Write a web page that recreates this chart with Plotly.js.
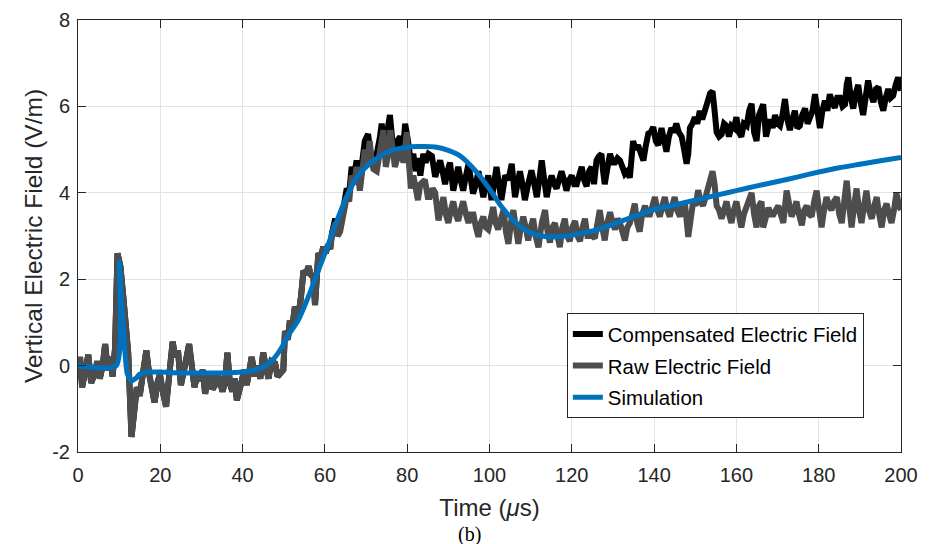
<!DOCTYPE html>
<html>
<head>
<meta charset="utf-8">
<script src="https://cdn.plot.ly/plotly-3.0.1.min.js"></script>
<style>
html,body{margin:0;padding:0;background:#fff;}
#chart{width:932px;height:544px;}
</style>
</head>
<body>
<div id="chart"></div>
<script>
// Raw electric field (V/m) vs time (us)
const rawT = [0,0.5,1,1.8,2.5,3.2,4,4.7,5.3,6,6.6,7.2,7.8,8.4,9.0,9.6,10.3,11.0,11.6,12.2,13.0,13.8,14.3,15.0,15.8,16.6,17.3,18.0,18.6,19.3,19.9,20.6,21.4,22.2,23.0,23.6,24.3,25.0,25.7,26.3,27.0,27.6,28.3,29.0,29.6,30.3,30.9,31.5,32.1,32.7,33.3,33.9,34.5,35.1,35.7,36.3,36.9,37.5,38.1,38.6,39.2,39.8,40.4,41.0,41.6,42.2,43.0,43.6,44.3,45.0,45.7,46.3,47.0,47.9,48.5,49.1,49.9,50.3,51.0,51.5,52.1,52.7,53.5,54.2,54.8,55.4,56.0,56.6,57.2,57.6,58.0,58.4,59.0,59.6,60.2,60.8,61.3,61.7,62.5,63.1,63.7,64.5,65.3,65.9,66.5,67.1,67.7,68.5,69.1,69.7,70.3,70.9,71.4,71.8,72.6,73.4,74.2,74.8,75.4,75.9,76.5,77.0,77.6,78.3,79.1,79.9,80.4,80.9,81.5,82.0,82.6,83.2,84.3,85.0,85.5,86.2,86.8,87.6,88.2,88.8,89.4,90.0,90.6,91.2,91.8,92.4,93.0,93.6,94.3,94.9,95.5,96.1,96.7,97.3,97.9,98.5,99.1,99.7,100.3,100.9,101.5,102.1,102.8,103.4,104.0,104.6,105.2,105.8,106.4,107.0,107.6,108.2,108.8,109.4,110.0,110.6,111.2,111.9,112.7,113.5,114.1,114.7,115.3,115.9,116.5,117.1,117.7,118.3,118.9,119.5,120.1,120.8,121.4,122.0,122.6,123.2,123.8,124.4,125.0,125.6,126.2,126.8,127.4,128.0,128.6,129.3,129.9,130.5,131.1,131.7,132.3,132.9,133.5,134.1,134.7,135.3,135.9,136.5,137.1,137.8,138.4,139.0,139.6,140.2,140.8,141.4,142.0,142.6,143.2,143.8,144.4,145.0,145.6,146.3,146.9,147.5,148.3,148.9,149.5,150.1,150.7,151.3,151.9,152.5,153.1,153.7,154.2,154.7,155.2,155.8,156.4,157.0,157.6,158.2,158.8,159.4,160.0,160.6,161.2,161.8,162.5,163.1,163.7,164.3,164.9,165.5,166.1,166.5,167.2,167.8,168.4,169.0,169.6,170.2,170.8,171.4,172.2,172.8,173.4,174.0,174.6,175.2,175.9,176.5,177.1,177.7,178.3,178.9,179.5,180.1,180.7,181.3,181.9,182.5,183.1,183.7,184.4,185.0,185.6,186.2,186.8,187.4,188.0,188.6,189.2,189.8,190.4,191.0,191.6,192.2,192.9,193.5,194.1,194.7,195.3,195.9,196.5,197.1,197.7,198.3,198.9,199.5,200.0];
const rawE = [-0.3,0.2,-0.5,-0.1,0.25,-0.4,-0.2,0.1,-0.3,0.0,0.5,-0.1,0.2,-0.25,0.4,2.6,2.3,1.6,0.9,0.3,-1.65,-0.9,-0.5,-0.7,-0.2,0.35,-0.2,-0.6,-0.85,-0.4,-0.2,-0.6,-0.95,-0.2,0.55,0.2,0.35,-0.45,0.0,0.15,0.5,-0.1,-0.5,-0.2,-0.35,-0.1,-0.65,-0.3,-0.15,-0.55,-0.45,-0.2,-0.35,-0.6,-0.4,0.3,-0.4,-0.6,-0.3,-0.8,-0.5,-0.35,-0.1,-0.45,-0.15,0.2,-0.25,0.0,-0.3,0.3,-0.05,-0.3,0.1,0.05,-0.25,-0.18,-0.1,0.8,0.6,1.05,0.9,1.36,1.1,1.6,2.2,2.1,2.3,2.1,2.05,1.4,2.0,2.6,2.5,2.75,2.6,2.8,2.7,3.05,3.3,3.0,3.1,3.6,3.9,3.8,4.4,4.2,4.6,4.05,4.5,5.0,4.7,5.2,4.7,4.55,4.5,5.0,5.45,4.6,4.9,5.45,4.9,4.6,4.8,5.0,4.7,5.4,4.7,4.1,4.4,4.06,3.83,4.2,4.3,3.9,3.9,4.1,4.0,3.36,3.7,3.9,3.5,3.3,3.6,3.8,3.5,3.35,3.6,3.8,3.5,3.3,3.5,3.5,3.2,2.98,3.3,3.45,3.2,3.15,3.4,3.67,3.3,3.15,3.4,3.6,3.1,2.82,3.3,3.6,3.2,2.82,3.2,3.45,3.2,2.9,3.2,3.4,3.0,2.74,3.3,3.6,3.1,2.85,3.2,3.3,3.0,2.74,3.2,3.4,3.0,2.88,3.2,3.35,3.0,2.88,3.2,3.4,3.0,3.0,3.0,2.95,3.3,3.6,3.2,2.9,3.3,3.55,3.3,3.15,3.4,3.3,3.1,2.9,3.2,3.3,3.5,3.75,3.3,3.1,3.5,3.7,3.5,3.5,3.7,3.9,3.6,3.45,3.7,3.9,3.6,3.45,3.7,3.9,3.6,3.45,3.7,3.75,2.98,3.5,3.8,3.7,4.06,3.8,3.7,3.9,4.1,4.3,4.5,4.2,3.7,3.6,3.4,3.6,3.8,3.5,3.3,3.6,3.8,3.5,3.2,3.5,3.7,3.9,4.0,3.5,3.2,3.7,3.8,3.2,3.5,3.65,3.5,3.5,3.6,3.7,3.5,3.3,4.05,3.7,3.45,3.6,3.8,3.5,3.25,3.6,3.7,3.5,3.45,3.8,4.05,3.6,3.2,3.6,3.9,3.7,3.6,3.8,3.9,3.5,3.3,3.8,4.28,3.7,3.2,3.7,4.1,3.6,3.3,3.7,4.05,3.6,3.4,3.7,3.9,3.5,3.2,3.6,3.75,3.5,3.3,3.6,4.0,3.7,3.6];

// Compensated electric field (V/m) vs time (us)
const compT = [0,0.5,1,1.8,2.5,3.2,4,4.7,5.3,6,6.6,7.2,7.8,8.4,9.0,9.6,10.3,11.0,11.6,12.2,13.0,13.8,14.3,15.0,15.8,16.6,17.3,18.0,18.6,19.3,19.9,20.6,21.4,22.2,23.0,23.6,24.3,25.0,25.7,26.3,27.0,27.6,28.3,29.0,29.6,30.3,30.9,31.5,32.1,32.7,33.3,33.9,34.5,35.1,35.7,36.3,36.9,37.5,38.1,38.6,39.2,39.8,40.4,41.0,41.6,42.2,43.0,43.6,44.3,45.0,45.7,46.3,47.0,47.9,48.5,49.1,49.9,50.3,51.0,51.5,52.1,52.7,53.5,54.2,54.8,55.4,56.0,56.6,57.2,57.6,58.0,58.4,59.0,59.6,60.2,60.8,61.3,61.7,62.5,63.1,63.7,64.5,65.3,65.9,66.5,67.1,67.7,68.5,69.1,69.7,70.5,71.1,71.8,72.6,73.4,73.8,74.5,75.1,75.8,76.4,77.0,77.6,78.3,79.0,79.5,80.2,80.9,81.5,82.0,82.6,83.2,83.9,84.5,85.2,86.0,86.8,87.4,88.0,88.6,89.2,89.8,90.4,91.2,91.8,92.4,93.0,93.6,94.3,94.9,95.5,96.0,96.7,97.3,97.9,98.5,99.1,99.7,100.5,101.1,101.7,102.3,102.9,103.8,104.6,105.4,106.2,106.8,107.4,108.0,108.6,109.4,110.2,110.9,111.5,112.1,112.7,113.3,113.9,114.5,115.1,115.7,116.3,116.9,117.5,118.1,118.7,119.4,120.0,120.6,121.2,121.8,122.4,123.0,123.6,124.2,124.8,125.4,126.0,126.6,127.2,127.6,128.0,128.7,129.3,129.9,130.5,131.1,131.7,132.3,132.9,133.5,134.1,134.9,135.5,136.1,136.8,137.4,138.0,138.6,139.2,139.8,140.4,141.0,141.8,142.4,143.0,143.6,144.2,144.8,145.4,146.0,146.7,147.3,147.9,148.3,148.7,149.3,149.9,150.5,151.1,151.7,152.3,153.1,153.6,154.2,154.7,155.2,155.8,156.4,157.0,157.6,158.2,158.8,159.4,160.0,160.6,161.2,161.8,162.5,163.1,163.7,164.3,164.9,165.5,166.5,167.2,167.8,168.2,168.8,169.4,170.0,170.6,171.2,171.8,172.4,173.0,173.6,174.2,174.8,175.4,176.0,176.7,177.3,177.9,178.5,179.1,179.7,180.3,180.9,181.5,182.1,182.7,183.3,183.9,184.5,185.2,185.8,186.4,186.8,187.2,187.8,188.4,189.0,189.6,190.2,190.8,191.4,192.0,192.6,193.3,193.9,194.5,195.1,195.7,196.3,196.9,197.5,198.1,198.7,199.3,200.0];
const compE = [-0.3,0.2,-0.5,-0.1,0.25,-0.4,-0.2,0.1,-0.3,0.0,0.5,-0.1,0.2,-0.25,0.4,2.6,2.3,1.6,0.9,0.3,-1.65,-0.9,-0.5,-0.7,-0.2,0.35,-0.2,-0.6,-0.85,-0.4,-0.2,-0.6,-0.95,-0.2,0.55,0.2,0.35,-0.45,0.0,0.15,0.5,-0.1,-0.5,-0.2,-0.35,-0.1,-0.65,-0.3,-0.15,-0.55,-0.45,-0.2,-0.35,-0.6,-0.4,0.3,-0.4,-0.6,-0.3,-0.8,-0.5,-0.35,-0.1,-0.45,-0.15,0.2,-0.25,0.0,-0.3,0.3,-0.05,-0.3,0.1,0.05,-0.25,-0.18,-0.1,0.8,0.6,1.05,0.9,1.36,1.1,1.6,2.2,2.1,2.3,2.1,2.05,1.4,2.0,2.6,2.5,2.75,2.6,2.8,2.7,3.05,3.4,3.1,3.2,3.7,4.1,4.0,4.6,4.4,4.75,4.3,4.8,5.2,5.36,4.9,4.8,4.9,5.3,5.6,5.0,5.3,5.8,5.2,4.9,5.2,5.3,5.0,5.6,5.2,4.7,4.9,4.5,4.8,4.4,4.9,4.7,4.9,4.85,4.37,4.6,4.75,4.5,4.2,4.5,4.7,4.05,4.3,4.6,4.3,4.05,4.4,4.67,4.3,3.98,4.2,4.5,4.2,3.9,4.2,4.4,3.83,4.2,4.6,4.2,3.83,4.4,4.3,4.67,3.9,4.2,4.5,4.2,3.83,4.2,4.52,4.2,3.9,4.3,4.75,4.3,3.9,4.2,4.4,4.2,4.1,4.3,4.5,4.3,4.05,4.3,4.4,4.2,4.2,4.4,4.6,4.3,4.15,4.5,4.6,4.2,4.75,4.85,4.9,4.5,4.2,4.6,4.9,4.7,4.7,4.8,4.75,4.6,4.44,4.5,4.35,5.2,5.0,5.1,4.9,4.75,5.1,5.37,5.4,5.52,5.2,5.1,5.5,5.2,4.95,5.3,5.5,5.4,5.6,5.4,5.3,5.0,4.67,4.9,5.5,5.6,5.75,5.6,5.9,5.7,5.85,6.14,6.3,6.35,5.9,5.4,5.3,5.35,5.6,5.55,5.3,5.55,5.5,5.75,5.4,5.3,5.6,5.55,5.9,6.06,5.4,5.2,5.8,6.05,5.3,5.6,5.7,5.5,5.8,5.6,5.55,5.8,6.17,5.7,5.45,5.7,5.9,5.5,5.55,5.8,5.95,5.6,5.75,5.9,6.28,5.8,5.5,5.9,6.13,5.9,6.28,6.1,5.97,6.2,6.2,6.0,6.05,6.5,6.67,6.2,5.95,6.3,6.5,6.1,5.8,6.2,6.6,6.3,6.1,6.4,6.45,6.1,5.9,6.2,6.4,6.2,6.25,6.5,6.67,6.36];

// Simulation (V/m) vs time (us)
const simT = [0,9.3,10,10.5,11.2,12,13,14,15,17,20,25,30,35,40,42,45,47,48.7,50,51.1,53.5,56,58.4,60.8,63.3,65.7,68.1,70.6,73,76.2,79.5,82.7,86.8,90,93.2,96.5,99.7,103,106.2,109.4,112.7,115.9,120,125.6,130,135,140.6,145,150,155,160,165,170,175,180,185,190,195,200];
const simE = [0,0,2.4,1.6,0.6,-0.2,-0.35,-0.3,-0.2,-0.15,-0.15,-0.17,-0.17,-0.17,-0.15,-0.12,-0.03,0.1,0.3,0.5,0.7,1.05,1.6,2.2,2.8,3.45,4.0,4.4,4.65,4.82,4.98,5.05,5.07,5.06,4.98,4.83,4.52,4.13,3.67,3.33,3.1,3.0,2.98,3.02,3.13,3.27,3.45,3.63,3.72,3.83,3.94,4.05,4.16,4.26,4.37,4.48,4.58,4.66,4.74,4.82];

const xTicks = [0,20,40,60,80,100,120,140,160,180,200];
const yTicks = [-2,0,2,4,6,8];
const seriesNames = ['Compensated Electric Field','Raw Electric Field','Simulation'];

const FONT = '"Liberation Sans", Arial, Helvetica, sans-serif';
const traces = [
  {x: compT, y: compE, name: seriesNames[0], type: 'scatter', mode: 'lines',
   line: {color: '#000000', width: 6}, legendgroup: 'a'},
  {x: rawT, y: rawE, name: seriesNames[1], type: 'scatter', mode: 'lines',
   line: {color: '#4d4d4d', width: 6}, legendgroup: 'b'},
  {x: simT, y: simE, name: seriesNames[2], type: 'scatter', mode: 'lines',
   line: {color: '#0072BD', width: 5, shape: 'spline', smoothing: 0.6}, legendgroup: 'c'}
];

const axisCommon = {
  showline: true, linecolor: '#262626', linewidth: 1, mirror: 'ticks',
  ticks: 'inside', ticklen: 8, tickwidth: 1, tickcolor: '#262626',
  showgrid: true, gridcolor: '#e3e3e3', gridwidth: 1, zeroline: false,
  tickfont: {family: FONT, size: 20, color: '#262626'}
};

const layout = {
  width: 932, height: 544,
  margin: {l: 78, r: 31, t: 20, b: 92},
  paper_bgcolor: '#ffffff', plot_bgcolor: '#ffffff',
  showlegend: true,
  xaxis: Object.assign({}, axisCommon, {
    range: [0, 200], tickvals: xTicks, ticktext: xTicks.map(String),
    ticklabelstandoff: 5,
    title: {text: 'Time (<i>μ</i>s)', font: {family: FONT, size: 24, color: '#262626'}, standoff: 14}
  }),
  yaxis: Object.assign({}, axisCommon, {
    range: [-2, 8], tickvals: yTicks, ticktext: yTicks.map(String),
    ticklabelstandoff: 3,
    title: {text: 'Vertical Electric Field (V/m)', font: {family: FONT, size: 24.5, color: '#262626'}, standoff: 2}
  }),
  legend: {
    x: 0.594, y: 0.321, xanchor: 'left', yanchor: 'top',
    bgcolor: '#ffffff', bordercolor: '#262626', borderwidth: 1,
    font: {family: FONT, size: 20.4, color: '#000000'},
    tracegroupgap: 2, traceorder: 'grouped'
  },
  annotations: [{
    text: '(b)', xref: 'paper', yref: 'paper', x: 0.476, y: -0.19,
    xanchor: 'center', yanchor: 'middle', showarrow: false,
    font: {family: '"Liberation Serif", "Times New Roman", serif', size: 20, color: '#000000'}
  }]
};

Plotly.newPlot('chart', traces, layout, {displayModeBar: false, staticPlot: true});
</script>
</body>
</html>
